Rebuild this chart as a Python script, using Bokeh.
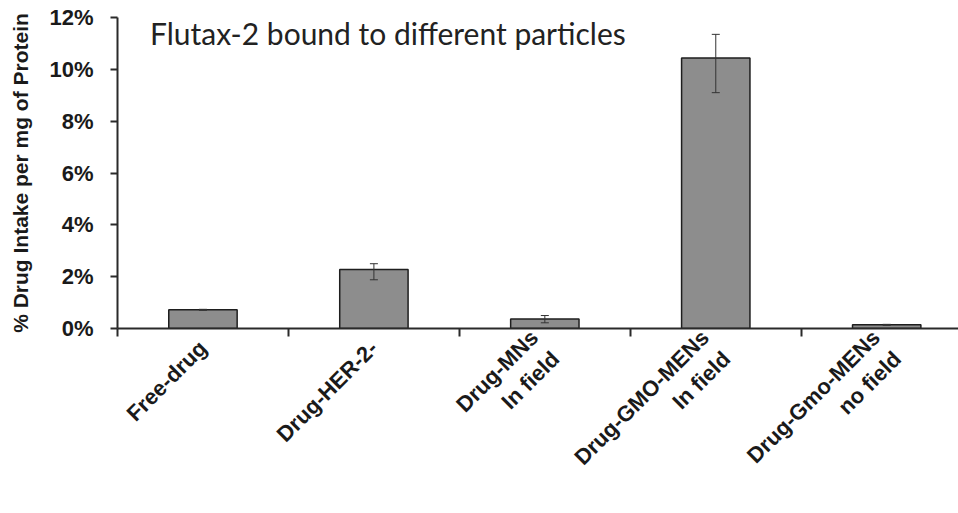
import math
from bokeh.plotting import figure
from bokeh.models import (ColumnDataSource, Range1d, FixedTicker, SingleIntervalTicker,
                          PrintfTickFormatter, Whisker, TeeHead, Label)
from bokeh.embed import file_html
from bokeh.resources import INLINE

# ---- data ----
categories = ["Free-drug", "Drug-HER-2-", "Drug-MNs", "Drug-GMO-MENs", "Drug-Gmo-MENs"]
second_line = ["", "", "In field", "In field", "no field"]
intake_pct = [0.72, 2.28, 0.37, 10.44, 0.14]
err_low = [0.70, 1.88, 0.22, 9.10, 0.12]
err_high = [0.74, 2.50, 0.50, 11.35, 0.16]
title_text = "Flutax-2 bound to different particles"
y_label = "% Drug Intake per mg of Protein"

centers = [i + 0.5 for i in range(len(categories))]
bounds = list(range(len(categories) + 1))
tick_text = [a + ("\n" + b if b else "") for a, b in zip(categories, second_line)]

src = ColumnDataSource(dict(x=centers, top=intake_pct, lower=err_low, upper=err_high))

p = figure(width=958, height=513, output_backend="svg", toolbar_location=None,
           x_range=Range1d(0, 4.92), y_range=Range1d(0, 12),
           min_border_left=117, min_border_right=0, min_border_top=17, min_border_bottom=185)
p.outline_line_color = None
p.xgrid.visible = False
p.ygrid.visible = False
p.background_fill_color = "white"
p.border_fill_color = "white"

p.vbar(x="x", top="top", width=0.4, source=src, fill_color="#8d8d8d",
       line_color="#1e1e1e", line_width=1.5)

w = Whisker(base="x", lower="lower", upper="upper", source=src,
            line_color="#333333", line_width=1, level="overlay",
            upper_head=TeeHead(size=8, line_color="#333333", line_width=1),
            lower_head=TeeHead(size=8, line_color="#333333", line_width=1))
p.add_layout(w)

# y axis
ya = p.yaxis[0]
ya.ticker = SingleIntervalTicker(interval=2, num_minor_ticks=0)
ya.formatter = PrintfTickFormatter(format="%d%%")
ya.axis_line_width = 2
ya.axis_line_color = "#2a2a2a"
ya.major_tick_line_width = 2
ya.major_tick_line_color = "#2a2a2a"
ya.major_tick_in = 0
ya.major_tick_out = 7
ya.minor_tick_line_color = None
ya.major_label_text_font = "Liberation Sans"
ya.major_label_text_font_style = "bold"
ya.major_label_text_font_size = "22px"
ya.major_label_text_color = "#1a1a1a"
ya.major_label_standoff = 17
ya.axis_label = y_label
ya.axis_label_text_font = "Liberation Sans"
ya.axis_label_text_font_style = "bold"
ya.axis_label_text_font_size = "21px"
ya.axis_label_text_color = "#1a1a1a"
ya.axis_label_standoff = 14

# x axis: boundary ticks (minor), labels at centers
xa = p.xaxis[0]
xa.ticker = FixedTicker(ticks=centers, minor_ticks=bounds)
xa.major_label_overrides = {c: lab for c, lab in zip(centers, tick_text)}
xa.major_label_orientation = math.pi / 4
xa.major_tick_line_color = None
xa.minor_tick_line_color = "#2a2a2a"
xa.minor_tick_line_width = 2
xa.minor_tick_in = 0
xa.minor_tick_out = 8
xa.axis_line_width = 2
xa.axis_line_color = "#2a2a2a"
xa.major_label_text_font = "Liberation Sans"
xa.major_label_text_font_style = "bold"
xa.major_label_text_font_size = "22px"
xa.major_label_text_color = "#1a1a1a"
xa.major_label_standoff = 8

title = Label(x=0.19, y=11.4, text=title_text, text_baseline="middle",
              text_font="Lato", text_font_size="30px", text_color="#222222")
p.add_layout(title)

open("out.html", "w").write(file_html(p, INLINE))
